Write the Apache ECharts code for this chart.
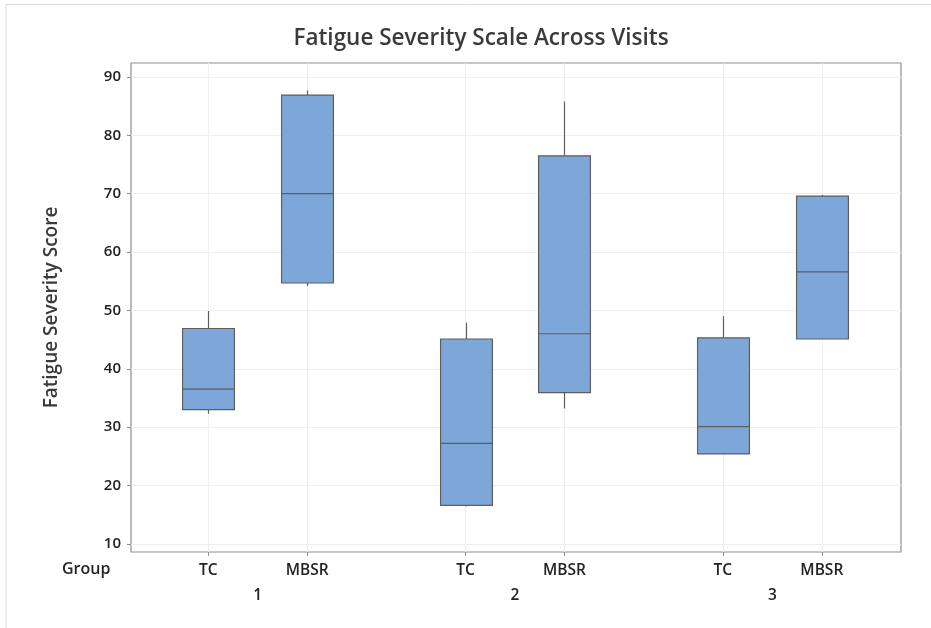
<!DOCTYPE html>
<html>
<head>
<meta charset="utf-8">
<script src="https://cdn.jsdelivr.net/npm/echarts@6/dist/echarts.min.js"></script>
<style>html,body{margin:0;padding:0;background:#fff;}#c{width:931px;height:628px;}</style>
</head>
<body>
<div id="c"></div>
<script>
// ---- data ----
const visitLabels = ['1', '2', '3'];
const groupLabels = ['TC', 'MBSR'];
const minVals    = [32.3, 54.2, 16.4, 33.2, 25.4, 45.1];
const q1Vals     = [33.0, 54.7, 16.6, 35.9, 25.4, 45.1];
const medianVals = [36.5, 70.0, 27.2, 46.0, 30.1, 56.6];
const q3Vals     = [46.9, 86.9, 45.1, 76.5, 45.3, 69.6];
const maxVals    = [49.9, 87.7, 47.9, 85.8, 49.0, 69.8];
const yTicks = [10, 20, 30, 40, 50, 60, 70, 80, 90];

// ---- layout helpers (positions on a value x-axis) ----
const GROUP_STEP = 13, INNER_STEP = 5, START = 1;
const boxPos = [], boxName = {};
visitLabels.forEach((v, vi) => groupLabels.forEach((g, gi) => {
  const p = START + vi * GROUP_STEP + gi * INNER_STEP;
  boxPos.push(p); boxName[p] = g;
}));
const visitPos = {}, visitCenters = [];
visitLabels.forEach((v, vi) => { const c = START + vi * GROUP_STEP + INNER_STEP / 2; visitPos[c] = v; visitCenters.push(c); });

const seriesData = boxPos.map((p, i) => [p, minVals[i], q1Vals[i], medianVals[i], q3Vals[i], maxVals[i]]);

const FONT = 'Open Sans';
const LINE = '#5e5e5e';
const BOX_W = 2.62;
const X_MIN = START - 3.9, X_MAX = START + 35;

const chart = echarts.init(document.getElementById('c'), null, {renderer: 'canvas'});
chart.setOption({
  backgroundColor: '#fff',
  animation: false,
  title: {
    text: 'Fatigue Severity Scale Across Visits',
    left: 476, top: 22, textAlign: 'center',
    textStyle: {fontFamily: FONT, fontSize: 22.5, fontWeight: 600, color: '#3a3a3a'}
  },
  graphic: [
    {type: 'polyline', shape: {points: [[6, 628], [6, 4.5], [931, 4.5]]}, style: {stroke: '#dcdcdc', lineWidth: 1, fill: null}, silent: true},
    {type: 'text', left: 62, top: 561, style: {text: 'Group', fontFamily: FONT, fontSize: 16, fontWeight: 600, fill: '#222'}}
  ],
  grid: {left: 131, right: 30, top: 63, bottom: 76, show: true, borderColor: '#8f8f8f', borderWidth: 1.2, backgroundColor: 'transparent'},
  xAxis: [
    {
      type: 'value', min: X_MIN, max: X_MAX,
      axisLine: {show: false, onZero: false},
      splitLine: {show: false},
      axisTick: {show: true, customValues: boxPos, length: 4, lineStyle: {color: '#8f8f8f'}},
      axisLabel: {customValues: boxPos, formatter: v => boxName[v] || '', margin: 11,
        fontFamily: FONT, fontSize: 15.5, fontWeight: 600, color: '#222'}
    },
    {
      type: 'value', min: X_MIN, max: X_MAX, position: 'bottom', offset: 25,
      axisLine: {show: false, onZero: false}, axisTick: {show: false}, splitLine: {show: false},
      axisLabel: {customValues: visitCenters, formatter: v => visitPos[v] || '', margin: 11,
        fontFamily: FONT, fontSize: 15.5, fontWeight: 600, color: '#222'}
    }
  ],
  yAxis: {
    type: 'value', min: 8.6, max: 92.4,
    name: 'Fatigue Severity Score', nameLocation: 'middle', nameGap: 70,
    nameTextStyle: {fontFamily: FONT, fontSize: 19, fontWeight: 600, color: '#3a3a3a'},
    axisLine: {show: false, onZero: false},
    splitLine: {show: false},
    axisTick: {show: true, customValues: yTicks, length: 4, lineStyle: {color: '#8f8f8f'}},
    axisLabel: {customValues: yTicks, margin: 10, fontFamily: FONT, fontSize: 15, fontWeight: 600, color: '#222'}
  },
  series: [
    {
      type: 'line', data: [], silent: true, z: 0,
      markLine: {
        silent: true, symbol: 'none', z: 0, label: {show: false},
        lineStyle: {color: '#efefef', width: 1, type: 'solid'},
        data: yTicks.map(v => ({yAxis: v})).concat(boxPos.map(p => ({xAxis: p})))
      }
    },
    {
      type: 'custom', z: 3,
      encode: {x: 0, y: [1, 2, 3, 4, 5]},
      data: seriesData,
      renderItem: function (params, api) {
        const x = api.value(0);
        const pMin = api.coord([x, api.value(1)]);
        const pQ1 = api.coord([x, api.value(2)]);
        const pMed = api.coord([x, api.value(3)]);
        const pQ3 = api.coord([x, api.value(4)]);
        const pMax = api.coord([x, api.value(5)]);
        const half = api.size([BOX_W, 0])[0] / 2;
        const cx = Math.round(pMin[0]) + 0.5;
        const ls = {stroke: LINE, lineWidth: 1.2};
        return {
          type: 'group',
          children: [
            {type: 'line', shape: {x1: cx, y1: pMax[1], x2: cx, y2: pQ3[1]}, style: ls},
            {type: 'line', shape: {x1: cx, y1: pQ1[1], x2: cx, y2: pMin[1]}, style: ls},
            {type: 'rect', shape: {x: cx - half, y: pQ3[1], width: 2 * half, height: pQ1[1] - pQ3[1]},
              style: {fill: '#7da7d9', stroke: LINE, lineWidth: 1.2}},
            {type: 'line', shape: {x1: cx - half, y1: pMed[1], x2: cx + half, y2: pMed[1]}, style: ls}
          ]
        };
      }
    }
  ]
});
</script>
</body>
</html>
